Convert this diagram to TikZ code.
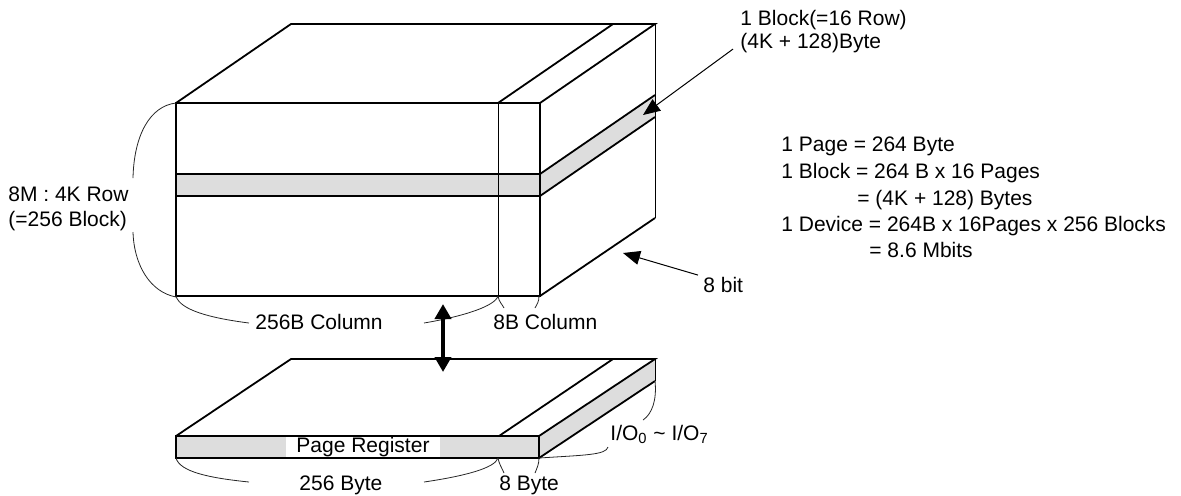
\documentclass[tikz,border=0pt]{standalone}
\usepackage{fontspec}
\setmainfont{Liberation Sans}
\usetikzlibrary{arrows.meta}
\definecolor{bandgray}{RGB}{221,221,221}
\def\cubefront{(176,103) rectangle (540,296)}
\def\cubeband{(176,174) rectangle (540,196)}
\def\cubesideband{(540,174) -- (655,95) -- (655,117) -- (540,196) -- cycle}
\def\regfront{(176,436) rectangle (539,458)}
\def\regside{(539,436) -- (655,359) -- (655,381) -- (539,458) -- cycle}

\begin{document}
\begin{tikzpicture}[x=0.5pt,y=-0.5pt,
	every node/.style={font=\fontsize{10.5}{13}\selectfont},
	txt/.style={inner sep=0pt,anchor=base west},
	heavy/.style={line width=1.2pt},
	edge/.style={line width=0.9pt},
	hair/.style={line width=0.5pt},
	brace/.style={line width=0.4pt,black!85},
	pointer/.style={line width=0.5pt,-{Triangle[length=8.5pt,width=7pt]}},
	bus/.style={line width=2pt,{Triangle[length=7.5pt,width=8pt]}-{Triangle[length=7.5pt,width=8pt]}}]
	\useasboundingbox (0,0) rectangle (1181,495);
	
	%memory array
	\fill [bandgray] \cubeband;
	\fill [bandgray] \cubesideband;
	\draw [heavy] \cubefront;
	\draw [heavy] (176,174) -- (540,174) (176,196) -- (540,196);
	\draw [hair] (498,103) -- (498,296);
	\draw [edge] (176,103) -- (291,24) -- (655,24) -- (540,103) (498,103) -- (613,24);
	\draw [edge] (540,174) -- (655,95) (540,196) -- (655,117) (540,296) -- (655,218);
	\draw [hair] (655,24) -- (655,218);
	
	%page register
	\fill [bandgray] \regfront;
	\fill [bandgray] \regside;
	\node [fill=white,inner xsep=5pt,inner ysep=0pt,minimum height=9.5pt] (reg) at (363,447) {Page Register};
	\draw [heavy] \regfront;
	\draw [edge] (176,436) -- (291,359) -- (655,359) -- (539,436) (499,436) -- (613,359);
	\draw [edge] (539,458) -- (655,381);
	\draw [hair] (655,359) -- (655,381);
	
	%braces
	\draw [brace] (176,103) .. controls (150,106) and (134,135) .. (133,178);
	\draw [brace] (133,232) .. controls (134,265) and (150,292) .. (176,297);
	\draw [brace] (176,296) .. controls (180,310) and (210,318) .. (249,323);
	\draw [brace] (424,323) .. controls (465,316) and (495,306) .. (498,296);
	\draw [brace] (498,296) .. controls (499,302) and (502,304) .. (504,308);
	\draw [brace] (539,296) .. controls (539,302) and (537,304) .. (535,308);
	\draw [brace] (176,458) .. controls (180,472) and (210,478) .. (249,482);
	\draw [brace] (424,482) .. controls (465,476) and (495,468) .. (498,458);
	\draw [brace] (498,458) .. controls (499,464) and (502,468) .. (504,473);
	\draw [brace] (539,458) .. controls (539,464) and (537,468) .. (535,473);
	\draw [brace] (655,381) .. controls (657,400) and (652,414) .. (643,420);
	\draw [brace] (608,447) .. controls (606,455) and (585,455) .. (539,458);
	
	%labels
	\node [txt] (rowA) at (8,201.5) {8M : 4K Row};
	\node [txt] (rowB) at (8,226) {(=256 Block)};
	\node [txt] (colA) at (255,329.5) {256B Column};
	\node [txt] (colB) at (493,329.5) {8B Column};
	\node [txt] (byteA) at (299,490) {256 Byte};
	\node [txt] (byteB) at (499,490) {8 Byte};
	\node [txt] (io) at (610,440) {I/O\textsubscript{0} \textasciitilde{} I/O\textsubscript{7}};
	\node [txt] (bit) at (703,292.7) {8 bit};
	\node [txt] (blkA) at (740,25) {1 Block(=16 Row)};
	\node [txt] (blkB) at (740,48.3) {(4K + 128)Byte};
	\node [txt] (pg) at (781,151.7) {1 Page = 264 Byte};
	\node [txt] (bk) at (781,178.3) {1 Block = 264 B x 16 Pages};
	\node [txt] (bkB) at (857,205) {= (4K + 128) Bytes};
	\node [txt] (dv) at (781,231) {1 Device = 264B x 16Pages x 256 Blocks};
	\node [txt] (dvB) at (869,257.7) {= 8.6 Mbits};
	
	%arrows
	\coordinate (bandtip) at (643,115);
	\coordinate (sidetip) at (623,253);
	\coordinate (busTop) at (443,304);
	\coordinate (busBot) at (443,372);
	\draw [pointer] ([xshift=-3.5pt,yshift=2pt]blkB.south west) -- (bandtip);
	\draw [pointer] ([xshift=-2.5pt,yshift=1pt]bit.north west) -- (sidetip);
	\draw [bus] (busTop) -- (busBot);
\end{tikzpicture}
\end{document}
